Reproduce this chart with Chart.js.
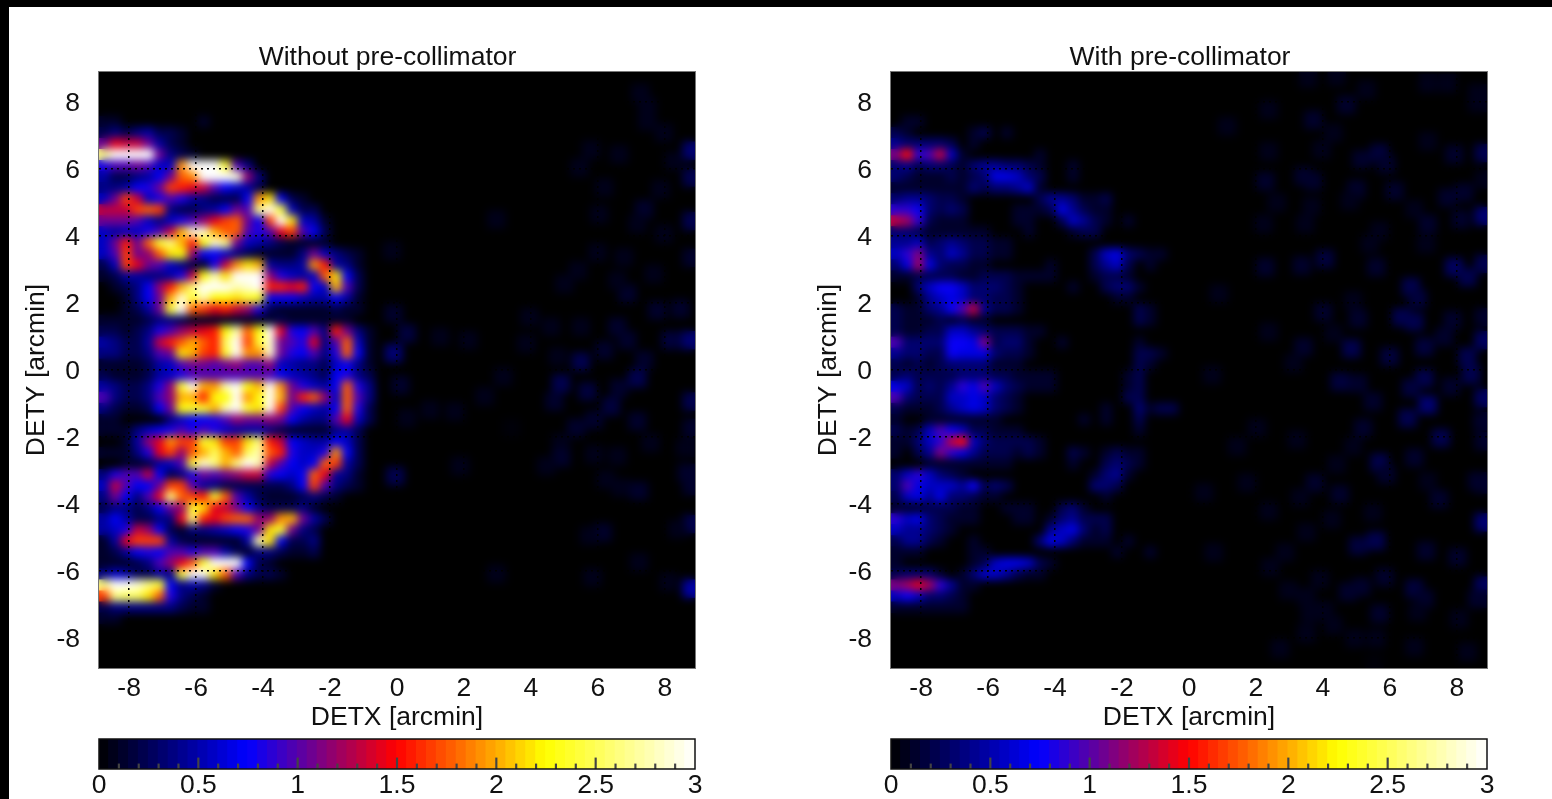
<!DOCTYPE html>
<html>
<head>
<meta charset="utf-8">
<script src="https://cdn.jsdelivr.net/npm/chart.js@4"></script>
<style>
  html, body { margin: 0; padding: 0; background: #000; overflow: hidden; }
  #page { position: absolute; left: 9px; top: 7px; right: 0; bottom: 0; background: #fff; }
  canvas { position: absolute; display: block; }
</style>
</head>
<body>
<div id="page"></div>
<canvas id="mainLeft" width="753" height="730" style="left:11px;top:8px"></canvas>
<canvas id="mainRight" width="754" height="730" style="left:803px;top:8px"></canvas>
<canvas id="barLeft" width="680" height="74" style="left:60px;top:725px"></canvas>
<canvas id="barRight" width="661" height="74" style="left:852px;top:725px"></canvas>
<script>
var axisTicks = [-8, -6, -4, -2, 0, 2, 4, 6, 8];
var titleLeft = 'Without pre-collimator';
var titleRight = 'With pre-collimator';
var xLabel = 'DETX [arcmin]';
var yLabel = 'DETY [arcmin]';

// cells, tenths of a count, 54 cells across the plot, first row is row 4 from the top
var firstRow = 4;
var leftRows = [
  [1,1,0,0,0,0,0,0,0,1],
  [2,3,2,3,4,2,2,1],
  [9,12,11,11,9,4,2,1],
  [22,27,26,29,27,9,3,2,1],
  [7,8,8,9,8,5,5,16,26,28,27,20,8,3],
  [4,2,2,3,4,6,9,15,16,26,29,29,24,10,3],
  [3,3,4,6,7,9,14,13,12,11,8,6,5,4,2],
  [5,9,14,11,5,7,8,7,4,3,2,2,2,6,16,18,6,2,1],
  [11,11,11,14,15,14,3,2,2,3,4,6,9,8,22,27,20,5,2,2],
  [9,9,9,8,5,3,5,7,8,10,12,14,15,9,6,14,26,18,5,4,1],
  [5,4,5,5,7,8,11,17,24,24,17,15,15,8,7,8,12,14,8,6,2],
  [5,9,13,9,15,20,22,17,13,19,24,22,9,5,4,3,2,1,1,1,1],
  [5,8,14,9,10,15,18,19,10,6,6,5,3,2,1,1,1,1,3,9,5,3,2,1],
  [2,5,14,12,9,8,5,3,2,1,7,11,16,18,17,4,3,3,4,16,13,4,3,1],
  [1,2,4,4,3,3,4,7,11,19,23,18,26,27,25,10,7,5,4,5,15,18,6,2],
  [0,1,2,3,6,10,13,17,22,25,27,26,23,24,27,13,13,12,13,6,5,17,8,2],
  [0,0,1,3,6,9,17,24,20,23,19,19,18,20,19,6,6,6,5,4,4,6,4,1],
  [0,0,1,2,4,9,20,25,15,14,12,13,11,10,7,2,1,1,1,1,1,2,1,1],
  [1,1,1,1,2,3,3,2,1,1,1,1,1,1,1,1,2,1,1,1,1,1,1],
  [2,2,1,2,3,7,8,10,11,12,13,19,23,15,19,26,12,7,6,8,3,13,9,3,1],
  [4,3,2,2,4,11,13,15,17,15,13,21,27,14,20,24,9,8,7,12,3,8,15,5,1],
  [3,3,2,2,3,8,9,18,17,14,13,20,27,16,16,24,9,7,6,8,3,7,15,6,1],
  [1,1,1,1,2,4,5,8,9,9,8,9,10,8,8,10,5,4,3,3,2,5,6,3,1],
  [2,1,1,1,2,4,5,7,8,8,8,8,8,8,8,8,6,5,4,3,2,6,7,3,2],
  [4,3,2,2,3,7,10,20,25,17,16,23,26,19,17,25,16,9,7,5,4,6,15,7,3],
  [8,3,2,2,3,8,10,17,17,13,19,19,27,16,19,27,17,9,13,15,10,5,15,8,3],
  [3,2,1,1,2,6,9,19,20,20,17,23,25,20,18,25,14,8,6,5,4,6,15,7,2],
  [1,1,0,0,0,0,3,5,6,6,7,8,10,9,9,10,9,6,4,3,3,8,12,5,2],
  [1,1,1,3,5,6,7,8,7,8,7,5,4,4,4,3,2,1,1,1,1,3,4,2],
  [0,0,1,4,10,12,16,14,14,20,18,14,14,18,22,13,11,6,5,4,4,6,5,2],
  [1,1,1,3,7,12,14,10,15,17,21,17,15,21,23,15,13,7,5,5,7,16,6,2],
  [0,0,1,1,2,4,5,8,20,24,22,17,22,25,23,11,8,6,5,6,15,14,4,2],
  [3,7,8,8,11,6,2,3,7,9,8,9,10,11,11,7,6,5,6,15,12,4,3,1],
  [5,11,8,6,6,9,14,14,8,4,3,2,2,2,2,2,2,3,6,14,8,3,2,1],
  [3,9,6,3,8,12,22,15,14,13,20,15,8,4,2,1,1,1,2,3,2,1],
  [2,3,3,2,3,6,9,10,20,18,12,11,9,6,3,2,2,2,3,1],
  [4,6,4,2,2,3,3,12,22,13,12,14,15,15,10,10,16,17,9,4,2],
  [4,5,7,11,10,6,2,1,3,3,4,5,6,7,9,18,20,9,3,2],
  [1,4,12,14,14,14,4,2,1,1,1,1,1,4,23,18,6,2,2,3],
  [1,2,4,6,7,6,8,8,7,8,8,4,2,1,3,3,2,1,1,2],
  [1,1,1,2,3,8,10,12,15,20,26,28,27,6,2,1],
  [3,5,4,2,2,4,3,20,27,26,18,15,8,3,2,2,1],
  [22,26,26,24,22,20,6,3,4,3,1],
  [14,22,21,21,18,15,7,3,2,1],
  [2,3,3,3,3,3,3,2,1,1],
  [1,1]
];
var rightRows = [
  [0,1,1],
  [2,1,0,0,0,0,0,1,2,0,1],
  [4,3,3,3,3,2,0,1],
  [10,14,8,9,12,5,1,0,0,0,0,0,0,1],
  [3,4,2,3,3,2,1,3,4,4,3,3,2,1,0,0,1],
  [3,2,1,1,1,2,1,2,3,6,6,5,3,2,0,0,1],
  [1,1,1,1,1,1,1,3,2,3,3,4,5,1],
  [3,4,4,3,2,2,1,0,0,0,0,0,0,2,4,4,3,1,1,2],
  [8,8,7,3,2,3,2,0,0,0,0,1,1,1,2,6,4,2,1,1],
  [12,11,8,2,1,1,1,0,0,0,0,1,1,0,0,2,5,4,2,1,0,1],
  [3,3,2,1,1,1,1,1,1,0,0,0,1,0,0,0,1,2,2],
  [4,4,5,2,3,4,3,2,2,1,1],
  [5,8,10,4,3,5,4,2,2,1,1,0,0,0,0,0,0,0,2,5,6,3,2,1,1],
  [3,6,11,6,3,2,2,1,1,0,0,0,0,0,1,0,0,0,2,4,5,2,0,1],
  [1,1,2,2,2,2,1,1,2,2,2,1,1,1,1,0,0,0,1,2,2,1],
  [0,0,3,5,7,7,5,3,3,3,2,1,0,0,0,0,1,0,0,2,3,3,1],
  [0,0,1,4,5,6,5,3,3,2,2,1,0,0,0,0,0,0,0,0,1,1],
  [2,1,1,3,4,7,9,12,4,2,2,1,0,0,0,0,0,0,0,0,0,0,2,1],
  [2,1,1,1,2,1,2,1,1,0,0,0,0,0,0,0,0,0,0,0,0,0,2,1],
  [2,1,1,2,2,5,5,4,3,2,2,2,1,1],
  [9,3,3,3,3,7,7,6,10,2,3,3,1,0,0,1,0,0,0,0,0,0,1],
  [4,3,3,2,2,7,6,6,6,3,2,2,1,0,0,0,0,0,0,0,0,0,2,2,1],
  [2,1,2,1,2,3,3,3,3,1,1,1,0,0,0,0,0,0,0,0,0,0,2,1],
  [2,3,2,2,2,2,3,3,3,2,2,1,1,1,1,0,0,0,0,0,0,1,2],
  [6,5,2,3,2,4,8,6,9,5,3,2,1,1,1,0,0,0,0,0,0,1,2],
  [9,3,2,2,2,5,5,6,5,3,2,1,0,0,0,0,0,0,0,0,0,2,2],
  [2,1,1,1,2,4,5,6,5,3,2,1,0,0,0,0,0,0,0,1,0,0,3,1,2,2],
  [1,0,0,1,1,1,1,1,1,1,0,0,0,0,0,0,0,1,0,1,0,0,2],
  [2,1,2,5,9,7,5,2,2,1,1,1,0,0,0,0,0,0,0,0,0,0,1],
  [1,1,3,5,8,12,14,5,3,2,2,2,2,1],
  [1,0,2,4,10,8,6,4,2,2,2,1,2,1,0,0,2,1,0,1,2,1,1],
  [0,0,0,1,1,1,1,1,1,1,1,0,0,0,0,0,1,0,0,2,3,2,1],
  [3,5,8,5,3,2,1,0,0,0,0,0,0,0,0,0,0,0,1,3,4,1],
  [3,9,6,5,5,5,4,7,2,3,2,0,0,0,0,0,0,0,3,3,2],
  [2,5,6,4,6,3,3,2,1,1,0,0,0,0,0,0,0,0,0,1],
  [1,1,1,2,2,2,1,1,0,0,1,1,1,0,0,2,3,1],
  [8,5,6,3,2,1,1,1,0,0,0,1,1,0,1,3,4,2,2,2],
  [5,4,4,3,2,1,0,0,0,0,0,0,0,0,4,5,6,3,1,2],
  [2,4,4,2,1,0,0,1,0,0,0,0,0,3,6,5,3,1,1,1,0,1],
  [1,1,1,0,0,0,0,1,1,0,0,0,0,0,0,0,0,0,0,0,1,0,0,1],
  [1,0,0,0,0,0,0,1,2,5,6,6,5,2,1],
  [2,3,3,3,1,0,1,3,5,5,4,2,1,1],
  [10,11,13,11,8,4,1,1],
  [5,7,5,3,3,2,1],
  [1,1,1,1,1,1,1]
];

// weak spots on the right hand side: [DETX, DETY, value]
var faintLeft = [
  [8.8,6.55,.5],[8.8,5.75,.3],[8.8,4.45,.35],[8.8,3.35,.2],[7.27,8.27,.1],[7.47,7.87,.1],[7.47,7.43,.1],[7.97,7.08,.1],
  [5.79,6.58,.1],[5.45,6.04,.1],[6.63,6.44,.1],[8.27,6.24,.1],[6.19,5.45,.1],[7.87,5.4,.12],[7.38,4.8,.15],[7.18,4.36,.12],
  [6.04,4.65,.1],[7.97,4.06,.1],[2.97,4.5,.08],[5.99,3.51,.1],[6.78,3.37,.1],[5,2.57,.12],[5.4,2.97,.1],[6.88,2.28,.15],
  [7.67,2.87,.12],[6.58,2.67,.1],[8.46,1.83,.15],[7.77,1.78,.15],[3.96,1.58,.1],[6.58,1.29,.2],[4.6,1.29,.1],[5.49,1.29,.1],
  [8.76,.89,.5],[8.17,.89,.25],[6.88,.89,.2],[3.86,.79,.1],[5.49,.25,.3],[7.38,.3,.2],[6.19,.59,.15],[4.8,.4,.12],
  [-.1,.5,.5],[.3,1.09,.25],[-.1,1.68,.2],[1.29,.99,.12],[2.13,.89,.1],[-.15,3.56,.1],
  [7.18,-.25,.35],[4.9,-.4,.3],[5.69,-.64,.25],[6.63,-.54,.2],[6.39,-1.09,.25],[4.7,-.94,.15],[5.89,-1.49,.2],[7.18,-1.53,.15],
  [8.8,-.94,.3],[8.8,-1.73,.2],[3.17,-.2,.12],[.1,-.45,.15],[.99,-1.19,.1],[.3,-1.44,.1],[1.73,-1.24,.1],[2.62,-.79,.1],
  [3.42,-1.73,.05],[5.35,-1.73,.15],[4.9,-2.18,.12],[4.9,-2.62,.2],[4.46,-2.87,.12],[5.89,-2.52,.1],[6.58,-2.57,.1],[7.57,-2.18,.1],
  [8.61,-2.33,.12],[8.66,-3.07,.15],[8.8,-3.47,.2],[6.24,-3.27,.12],[7.23,-3.61,.2],[6.68,-3.51,.1],[-.05,-3.17,.35],[1.88,-2.87,.08],
  [8.8,-4.6,.35],[8.37,-4.75,.1],[6.14,-4.85,.15],[5.74,-4.95,.1],[7.23,-5.74,.08],[8.8,-6.53,.65],[8.12,-6.34,.08],[5.84,-6.19,.1],[2.97,-6.09,.08]
];
var faintRight = [
  [3.71,7.47,.2],[4.7,7.92,.2],[2.38,7.77,.1],[1.14,7.28,.1],[5.3,8.37,.1],[3.56,8.71,.1],[4.41,8.76,.1],[7.13,8.56,.1],
  [7.72,8.56,.1],[8.61,8.27,.12],[8.61,7.97,.12],[4.31,7.08,.1],[3.96,6.58,.1],[5.69,6.48,.25],[5.89,6.14,.2],[5.15,6.29,.15],
  [7.92,6.44,.2],[7.13,6.83,.1],[8.8,6.48,.3],[2.38,6.53,.1],[2.28,5.64,.15],[3.71,5.64,.2],[3.42,5.79,.15],[5,5.4,.15],
  [4.8,5.05,.1],[2.62,5,.1],[3.66,4.9,.1],[6.14,5.35,.15],[7.72,5.15,.2],[8.22,5.3,.15],[8.8,4.6,.5],[8.8,5.69,.12],
  [6.73,4.8,.1],[7.13,4.36,.15],[8.12,4.5,.2],[2.23,4.36,.1],[3.47,4.36,.1],[5.69,4.16,.1],[5.4,3.76,.1],[7.08,3.76,.1],
  [4.06,3.32,.25],[3.37,3.12,.15],[2.28,3.07,.15],[5.59,3.07,.2],[7.92,3.07,.4],[8.32,2.77,.3],[8.8,3.17,.3],[6.63,2.48,.3],
  [6.83,2.13,.25],[.89,2.28,.1],[4.9,2.08,.1],[4.01,1.73,.15],[5.05,1.53,.15],[6.34,1.58,.35],[6.73,1.44,.3],[7.87,1.49,.2],
  [8.8,1.58,.2],[2.38,1.14,.1],[4.31,1.09,.1],[3.42,.69,.15],[4.85,.64,.3],[5.99,.4,.25],[7.03,.69,.25],[8.32,.4,.35],
  [8.8,.89,.4],[7.62,.99,.2],[3.12,.2,.1],
  [4.5,-.35,.25],[5.05,-.4,.2],[7.03,-.25,.3],[8.42,-.15,.3],[8.8,-.84,.4],[6.63,-.54,.25],[7.82,-.5,.2],[7.13,-1.04,.45],
  [6.53,-1.44,.3],[7.52,-2.03,.3],[5.2,-1.73,.15],[5.49,-.94,.2],[8.76,-1.53,.2],[8.8,-2.13,.2],[5.69,-2.77,.35],[4.9,-2.28,.12],
  [4.41,-2.82,.12],[6.73,-2.62,.15],[5.89,-3.12,.2],[3.76,-3.37,.15],[4.5,-3.71,.15],[3.32,-3.81,.08],[1.73,-3.37,.12],[.45,-3.66,.08],
  [2.03,-1.73,.12],[1.44,-2.28,.08],[3.22,-2.08,.08],[.69,-.15,.08],[2.38,-4.21,.08],[7.13,-3.32,.12],[7.47,-3.86,.15],[8.61,-3.32,.15],
  [8.8,-4.55,.5],[8.8,-3.42,.2],[8.8,-6.44,.4],[5.59,-5.1,.3],[5.05,-5.25,.25],[4.26,-4.46,.1],[5.49,-4.26,.1],[3.51,-4.85,.1],
  [2.87,-5.45,.12],[2.43,-5.89,.12],[.74,-5.45,.1],[7.08,-5.4,.15],[8.02,-5.59,.15],[5.84,-6.19,.2],[2.97,-6.58,.1],[3.51,-6.78,.1],
  [4.75,-6.63,.15],[5.15,-6.48,.15],[6.73,-6.53,.25],[7.03,-6.83,.2],[8.61,-6.83,.15],[3.91,-6.24,.08],[5.69,-7.28,.15],[6.83,-7.23,.12],
  [8.07,-7.43,.12],[3.61,-7.28,.08],[4.06,-7.18,.08],[4.31,-7.62,.1],[3.51,-7.87,.12],[4.95,-8.02,.12],[5.59,-8.02,.08],[2.72,-8.32,.08],
  [6.73,-8.27,.12],[8.32,-8.42,.08],[5.54,-8.76,.06]
];

// colour bar
var barLevels = [
  0.025,0.075,0.125,0.175,0.225,0.275,0.325,0.375,0.425,0.475,0.525,0.575,0.625,0.675,0.725,
  0.775,0.825,0.875,0.925,0.975,1.025,1.075,1.125,1.175,1.225,1.275,1.325,1.375,1.425,1.475,
  1.525,1.575,1.625,1.675,1.725,1.775,1.825,1.875,1.925,1.975,2.025,2.075,2.125,2.175,2.225,
  2.275,2.325,2.375,2.425,2.475,2.525,2.575,2.625,2.675,2.725,2.775,2.825,2.875,2.925,2.975
];
var barTicks = [0, 0.5, 1, 1.5, 2, 2.5, 3];
var barMajor = [0.5, 1, 1.5, 2, 2.5];
var barMinor = [0.1,0.2,0.3,0.4,0.6,0.7,0.8,0.9,1.1,1.2,1.3,1.4,1.6,1.7,1.8,1.9,2.1,2.2,2.3,2.4,2.6,2.7,2.8,2.9];

var stopValues = [0, 0.75, 1.5, 2.25, 3];
var stopColors = [[0,0,0],[0,0,255],[255,0,0],[255,255,0],[255,255,255]];

function levelColor(v) {
    var q = Math.min(Math.floor(v / 0.05) * 0.05 + 0.025, 2.999);
    var k = 0;
    while (q > stopValues[k + 1]) k++;
    var t = (q - stopValues[k]) / (stopValues[k + 1] - stopValues[k]);
    var a = stopColors[k], b = stopColors[k + 1];
    return 'rgb(' + Math.round(a[0] + (b[0] - a[0]) * t) + ',' + Math.round(a[1] + (b[1] - a[1]) * t) + ',' + Math.round(a[2] + (b[2] - a[2]) * t) + ')';
}

// gain makes up for the peak height the softening takes away, weak spots spread out so they count less
function buildCells(rows, faint, gain) {
    var step = 17.8 / 54;
    var cells = [];
    faint.forEach(function (p) {
        cells.push({ x: p[0], y: p[1], v: p[2] * 0.7, weak: true });
    });
    rows.forEach(function (row, r) {
        row.forEach(function (val, c) {
            if (val > 0) cells.push({ x: -8.9 + (c + 0.5) * step, y: 8.9 - (r + firstRow + 0.5) * step, v: val / 10 * gain });
        });
    });
    return cells;
}

Chart.defaults.font.family = '"Liberation Sans", Arial, sans-serif';
Chart.defaults.font.size = 26.5;
Chart.defaults.color = '#111';

// black plot area, then soften the cells like the original image
var heatPlugin = {
    id: 'heat',
    beforeDatasetsDraw: function (chart) {
        var a = chart.chartArea, c = chart.ctx;
        c.save();
        c.fillStyle = '#000';
        c.fillRect(a.left, a.top, a.width, a.height);
        c.restore();
    },
    afterDatasetsDraw: function (chart) {
        var a = chart.chartArea, c = chart.ctx;
        c.save();
        c.beginPath();
        c.rect(a.left, a.top, a.width, a.height);
        c.clip();
        c.filter = 'blur(4px)';
        c.drawImage(chart.canvas, a.left, a.top, a.width, a.height, a.left, a.top, a.width, a.height);
        c.restore();
    },
    afterDraw: function (chart) {
        var a = chart.chartArea, c = chart.ctx;
        c.save();
        c.strokeStyle = '#777';
        c.lineWidth = 1;
        c.strokeRect(a.left - 0.5, a.top - 0.5, a.width + 1, a.height + 1);
        c.restore();
    }
};

function heatAxis(tickFit, titleText, titlePad, tickPad, labelShift) {
    return {
        type: 'linear', min: -8.9, max: 8.9,
        afterBuildTicks: function (s) { s.ticks = axisTicks.map(function (v) { return { value: v }; }); },
        afterFit: tickFit,
        ticks: { padding: tickPad, labelOffset: labelShift, maxRotation: 0, autoSkip: false },
        grid: { color: '#000', lineWidth: 1.5, z: 1, drawTicks: false },
        border: { display: false, dash: [2, 4] },
        title: { display: true, text: titleText, padding: titlePad }
    };
}

// the title centres on the box without the padding, so the gap right of the plot is an empty axis
function heatChart(id, cells, titleText, gapRight) {
    return new Chart(document.getElementById(id), {
        type: 'scatter',
        data: {
            datasets: [{
                data: cells,
                pointStyle: 'rect',
                pointRadius: function (ctx) { return ctx.raw.weak ? 13 : 8.2; },
                pointBorderWidth: 0,
                pointBackgroundColor: function (ctx) { return levelColor(ctx.raw.v); }
            }]
        },
        options: {
            responsive: false,
            animation: false,
            layout: { padding: { left: 10, right: 10, top: 0, bottom: 0 } },
            plugins: {
                legend: { display: false },
                tooltip: { enabled: false },
                title: { display: true, text: titleText, font: { weight: 'normal', size: 26.5 }, color: '#111', padding: { top: 34, bottom: -1.8 } }
            },
            scales: {
                x: heatAxis(function (s) { s.height = 70; }, xLabel, { top: 0, bottom: 4 }, 5, 0),
                y: heatAxis(function (s) { s.width = 78; }, yLabel, { top: 0, bottom: 0 }, 19, 2),
                gap: {
                    type: 'linear', position: 'right',
                    afterFit: function (s) { s.width = gapRight; },
                    ticks: { display: false },
                    grid: { display: false },
                    border: { display: false }
                }
            }
        },
        plugins: [heatPlugin]
    });
}

var framePlugin = {
    id: 'frame',
    afterDatasetsDraw: function (chart) {
        var a = chart.chartArea, c = chart.ctx;
        c.save();
        c.strokeStyle = '#111';
        c.lineWidth = 1.5;
        c.strokeRect(a.left, a.top, a.width, a.height);
        c.restore();
    }
};

function barChart(id, padRight) {
    return new Chart(document.getElementById(id), {
        type: 'bar',
        data: {
            datasets: [
                {
                    order: 3,
                    grouped: false,
                    data: barLevels.map(function (v) { return { x: v, y: 1 }; }),
                    backgroundColor: barLevels.map(levelColor),
                    barThickness: 11
                },
                { order: 2, grouped: false, data: barMajor.map(function (v) { return { x: v, y: 0.37 }; }), backgroundColor: '#444', barThickness: 1.5 },
                { order: 1, grouped: false, data: barMinor.map(function (v) { return { x: v, y: 0.17 }; }), backgroundColor: '#444', barThickness: 1.5 }
            ]
        },
        options: {
            responsive: false,
            animation: false,
            layout: { padding: { left: 39, right: padRight, top: 14, bottom: 0 } },
            plugins: { legend: { display: false }, tooltip: { enabled: false } },
            scales: {
                x: {
                    type: 'linear', min: 0, max: 3, offset: false,
                    afterBuildTicks: function (s) { s.ticks = barTicks.map(function (v) { return { value: v }; }); },
                    afterFit: function (s) { s.height = 30; },
                    ticks: { padding: 1, maxRotation: 0, autoSkip: false, callback: function (v) { return String(v); } },
                    grid: { display: false, drawTicks: false },
                    border: { display: false }
                },
                y: { display: false, min: 0, max: 1 }
            }
        },
        plugins: [framePlugin]
    });
}

heatChart('mainLeft', buildCells(leftRows, faintLeft, 1.2), titleLeft, 59);
heatChart('mainRight', buildCells(rightRows, faintRight, 1.1), titleRight, 60);
barChart('barLeft', 45);
barChart('barRight', 26);
</script>
</body>
</html>
